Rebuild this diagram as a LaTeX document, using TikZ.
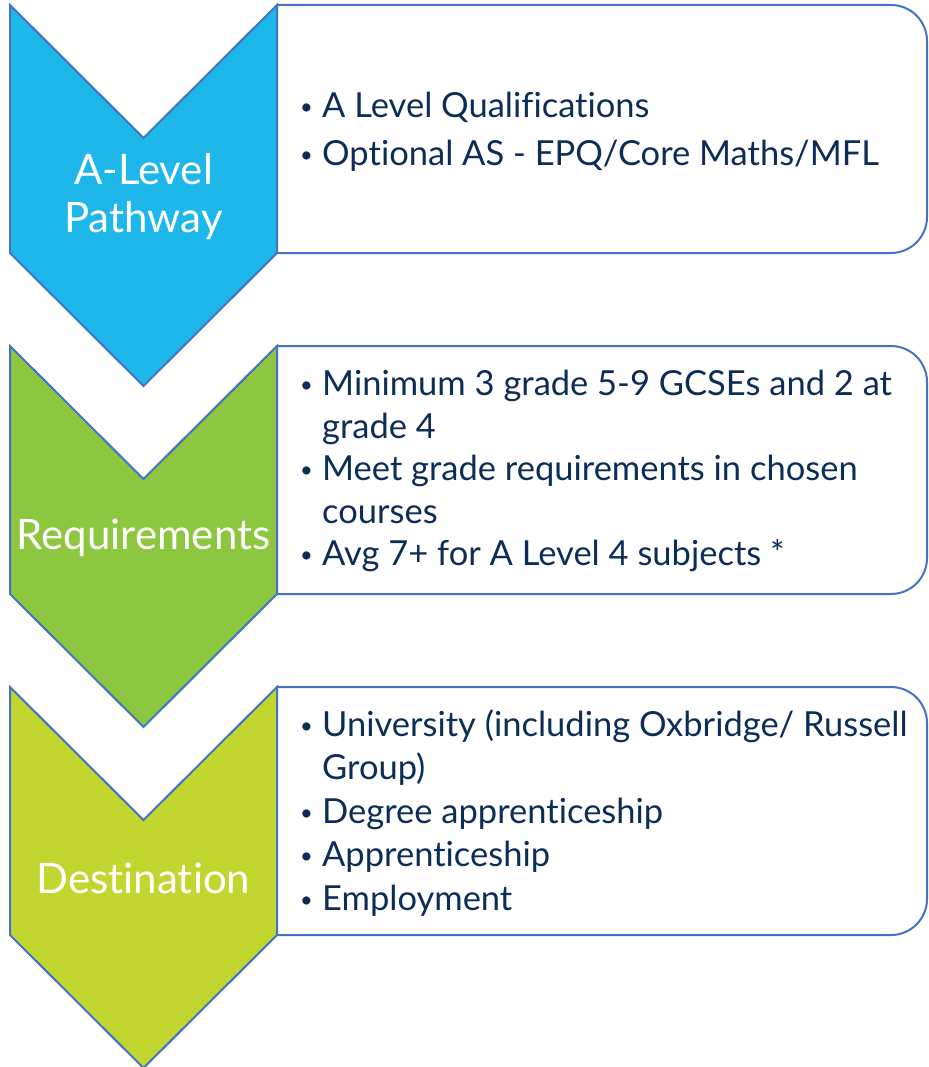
\documentclass[tikz,border=0pt]{standalone}
\usepackage{fontspec}
\setmainfont{Lato}[Ligatures = NoCommon]
\usepackage{tikz}
\usetikzlibrary{math}

\definecolor{step1}{HTML}{1DB7EA}
\definecolor{step2}{HTML}{8DC63F}
\definecolor{step3}{HTML}{C1D72F}
\definecolor{stepline}{HTML}{4472C4}
\definecolor{steptext}{HTML}{0C2D57}

\newcommand{\bul}{\makebox[22pt][l]{\raisebox{3pt}{\fontsize{22}{22}\selectfont\textbullet}}}
\newcommand{\ind}{\hspace*{22pt}}

\begin{document}
\begin{tikzpicture}[x=1pt,y=-1pt,
    chevron/.style = {draw = stepline, line width = 2pt, line join = miter},
    boxline/.style = {draw = stepline, line width = 2pt, rounded corners = 36pt},
    steplabel/.style = {text = white, align = center, font = \fontsize{42}{48}\selectfont},
    itemlist/.style = {text = steptext, align = left, anchor = west, inner sep = 0pt}]
    \useasboundingbox (0,0) rectangle (928,1067);
    \tikzmath{
        function paint_step(\ytop,\idx){
            \notch = 133;
            \side = 248;
            \tipy = 381;
            {
                \draw[boxline] (277,\ytop) -- (927,\ytop) -- (927,\ytop+\side) -- (277,\ytop+\side);
                \pgfmathtruncatemacro\colno{\idx}
                \filldraw[chevron, fill = step\colno] (10,\ytop) -- (143.5,\ytop+\notch) -- (277,\ytop)
                    -- (277,\ytop+\side) -- (143.5,\ytop+\tipy) -- (10,\ytop+\side) -- cycle;
            };
        };
        paint_step(5,1);
        paint_step(346,2);
        paint_step(687,3);
    }
    \node[steplabel] (pathlabel) at (143.5,197) {A-Level\\Pathway};
    \node[steplabel] (reqlabel) at (143.5,538) {Requirements};
    \node[steplabel] (destlabel) at (143.5,878) {Destination};

    \node[itemlist, font = \fontsize{34.5}{48}\selectfont] (pathlist) at (300,132)
        {\bul A Level Qualifications\\ \bul Optional AS - EPQ/Core Maths/MFL};
    \node[itemlist, font = \fontsize{34.5}{42.5}\selectfont] (reqlist) at (300,471)
        {\bul Minimum 3 grade 5-9 GCSEs and 2 at\\ \ind grade 4\\
         \bul Meet grade requirements in chosen\\ \ind courses\\
         \bul Avg 7+ for A Level 4 subjects *};
    \node[itemlist, font = \fontsize{34.5}{43.5}\selectfont] (destlist) at (300,813)
        {\bul University (including Oxbridge/ Russell\\ \ind Group)\\
         \bul Degree apprenticeship\\ \bul Apprenticeship\\ \bul Employment};
\end{tikzpicture}
\end{document}
